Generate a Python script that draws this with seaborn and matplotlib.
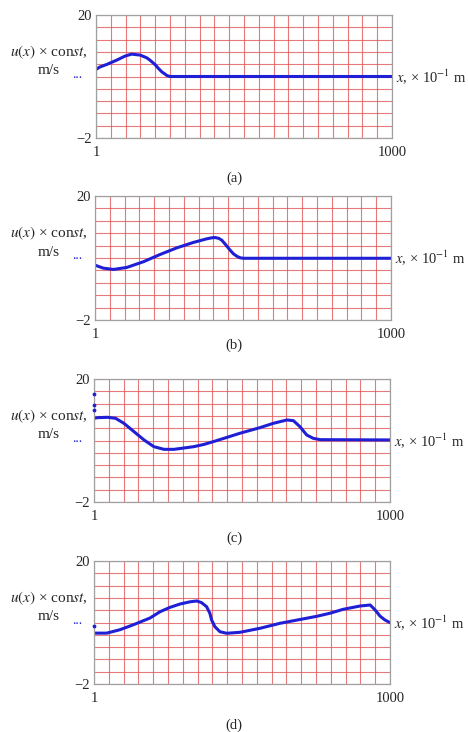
import numpy as np
import pandas as pd
import seaborn as sns
import matplotlib.pyplot as plt

# =================== Data ===================

# panel (a)
xa = [1, 14, 37, 71, 99, 121, 150, 172, 183, 200, 212, 223, 234, 240, 251, 1000]
ua = [10.26, 10.7, 11.15, 11.93, 12.65, 13.0, 12.83, 12.35, 11.93, 11.15, 10.43, 9.84, 9.42, 9.18,
      9.0, 9.0]

# panel (b)
xb = [1, 29, 63, 108, 164, 221, 277, 333, 378, 395, 406, 418, 429, 443, 457, 468, 480, 490, 502, 1000]
ub = [7.73, 7.2, 6.97, 7.32, 8.33, 9.63, 10.8, 11.76, 12.4, 12.58, 12.63, 12.5, 12.16, 11.3, 10.39,
      9.75, 9.3, 9.05, 8.95, 8.95]

# panel (c)
xc = [1, 12, 46, 74, 102, 136, 170, 203, 237, 271, 338, 372, 404, 494, 561, 606, 652, 674, 696, 719,
      741, 764, 1000]
uc = [12.97, 13.08, 13.15, 12.97, 12.07, 10.58, 9.09, 7.9, 7.42, 7.42, 7.9, 8.3, 8.8, 10.3, 11.3,
      12.07, 12.67, 12.55, 11.47, 9.98, 9.39, 9.15, 9.1]
# stray points at the left edge of (c)
xc_dots = [1, 1, 1]
uc_dots = [17.3, 15.4, 14.4]

# panel (d)
xd = [1, 44, 88, 134, 190, 224, 257, 291, 325, 348, 364, 381, 392, 398, 409, 426, 449, 494, 561,
      629, 752, 797, 842, 899, 933, 950, 966, 983, 1000]
ud = [7.1, 7.1, 7.7, 8.6, 9.8, 10.93, 11.7, 12.3, 12.7, 12.85, 12.55, 11.83, 10.65, 9.45, 8.25,
      7.35, 7.07, 7.25, 7.96, 8.86, 10.1, 10.65, 11.36, 11.95, 12.13, 11.23, 10.16, 9.45, 8.97]
xd_dots = [1]
ud_dots = [8.4]

panel_names = ['(a)', '(b)', '(c)', '(d)']

# =================== Plot ===================

sns.set_style('white')
plt.rcParams['font.family'] = ['Liberation Serif', 'DejaVu Serif']
plt.rcParams['mathtext.fontset'] = 'stix'

fig = plt.figure(figsize=(4.68, 7.32), dpi=100)

W, H = 468.0, 732.0
# axes boxes in pixels: left, top, right, bottom
boxes = [(96, 15, 392, 138), (95, 196, 391, 320), (94, 379, 390, 502), (94, 561, 390, 684)]
caption_y = [178, 345, 538, 725]

curves = [(xa, ua), (xb, ub), (xc, uc), (xd, ud)]
dots = [None, None, (xc_dots, uc_dots), (xd_dots, ud_dots)]

line_color = '#1f1fd6'
grid_color = '#e05858'
fs = 10.5

for i, (l, t, r, b) in enumerate(boxes):
    ax = fig.add_axes([l / W, 1 - b / H, (r - l) / W, (b - t) / H])
    x, u = curves[i]
    df = pd.DataFrame({'x': x, 'u': u})
    sns.lineplot(data=df, x='x', y='u', ax=ax, color=line_color, linewidth=2.2)
    if dots[i] is not None:
        ax.scatter(dots[i][0], dots[i][1], s=3, color=line_color, zorder=5, clip_on=False)

    ax.set_xlim(1, 1000)
    ax.set_ylim(-2, 20)
    xg = np.linspace(1, 1000, 21)
    yg = np.linspace(-2, 20, 11)
    ax.set_xticks(xg)
    ax.set_yticks(yg)
    ax.set_xticklabels(['1'] + [''] * 19 + ['1000'], fontsize=fs)
    ax.set_yticklabels(['\u22122'] + [''] * 9 + ['20'], fontsize=fs)
    ax.tick_params(length=0, pad=3)
    ax.tick_params(axis='x', pad=6)
    ax.grid(True, color=grid_color, linewidth=0.8, alpha=0.8)
    ax.set_axisbelow(True)
    for s in ax.spines.values():
        s.set_color('#a0a0a0')
        s.set_linewidth(0.9)
    ax.set_xlabel('')
    ax.set_ylabel('')

    # axis labels as in the figure
    lx = (49 - l) / (r - l)
    ax.text(lx, 13.3, r'$u(x)$ × con$st$,', transform=ax.get_yaxis_transform(),
            ha='center', va='center', fontsize=11)
    ax.text(lx, 10.0, 'm/s', transform=ax.get_yaxis_transform(),
            ha='center', va='center', fontsize=11)
    ax.text((77 - l) / (r - l), 9.4, '...', transform=ax.get_yaxis_transform(),
            ha='center', va='center', fontsize=10, color=line_color)
    ax.text(1.015, 9.0, r'$x$, × 10$^{-1}$ m', transform=ax.get_yaxis_transform(),
            ha='left', va='center', fontsize=fs)

    fig.text(234 / W, 1 - caption_y[i] / H, panel_names[i], ha='center', va='center', fontsize=fs)

fig.savefig('out.png', dpi=100)
